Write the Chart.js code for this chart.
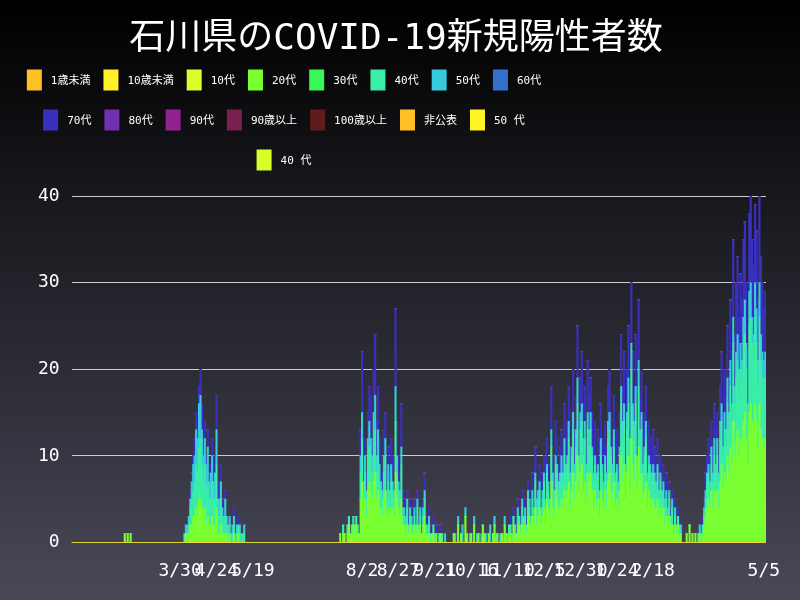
<!DOCTYPE html>
<html><head><meta charset="utf-8">
<script src="https://cdn.jsdelivr.net/npm/chart.js@4"></script>
<style>html,body{margin:0;padding:0;background:#000}#w{width:800px;height:600px}</style>
</head><body><div id="w"><canvas id="c"></canvas></div>
<script>
const startDate = '2020-01-16';
const dayCount = 477;
const shownTicks = ['2020-03-30','2020-04-24','2020-05-19','2020-08-02','2020-08-27','2020-09-21','2020-10-16','2020-11-10','2020-12-05','2020-12-30','2021-01-24','2021-02-18','2021-05-05'];
const legendNames = ['1歳未満','10歳未満','10代','20代','30代','40代','50代','60代','70代','80代','90代','90歳以上','100歳以上','非公表','50 代','40 代'];
const legendColors = ['#ffbf26','#ffef26','#d9ff2a','#7aff33','#38f855','#3aeea8','#38cadc','#3570cc','#3a30c0','#7030b0','#922290','#782050','#601c1c','#ffbf26','#fff326','#d9ff2a'];

// [startDayIndex, values]
const s20 = [
 [36,[1,0,1,0,1]],
 [77,[0,1,0,1,2,2,3,3,4,3,5,5,4,3,4,2,3,2,2,3,2,2,4,1,1,2,1,1,1,1,0,1,0,0,1,0,0,1,0,0,0,0]],
 [184,[1,0,1,1,0,1,2,1,1,2,1,2,1,1,5,7,4,5,3,6,7,6,5,7,8,5,6,4,4,3,5,6,3,4,3,4,4,3,8,5,4,3,5,2,2,1,2,1,2,1,1,2,1,2,1,2,1,2,3,1,1,1,0,1,1,0,1,0,0,1,0,0,0]],
 [262,[1,0,0,2,0,1,0,0,3,1,0,0,1,0,2,0,0,1,0,0,2,1,0,0,1,0,0,1,2,0,1,0,0,1,0,2,1,0]],
 [300,[1,1,0,2,1,1,2,2,1,2, 2,2,1,3,2,2,3,2,4,2, 3,4,2,3,4,2,5,4,3,7, 4,3,6,5,4,4,5,4,6,5, 6,7,4,6,8,5,7,10,6,8, 9,6,7,5,8,7,8,6,4,6, 4,5,3,6,5,4,6,4,7,8, 6,5,7,4,5,4,6,10,7,9, 5,8,10,6,12,9,7,10,6,11, 7,8,5,6,7,4,6,5,4,5, 4,4,5,3,4,3,4,2,3,2, 3,2,2,1,2,1,2,1,1]],
 [422,[1,0,2,0,1,0,1,0]],
 [430,[0,1,0,1,2,3,4,5,4,6, 4,6,5,6,4,7,9,6,8,7, 10,8,11,9,14,10,12,13,10,12, 11,14,15,12,9,15,16,14,13,16,14,11,16,13,12,11,12]]
];
const s40 = [
 [77,[1,0,1,1,2,3,3,4,5,5,6,7,5,4,5,4,4,3,3,4,3,3,5,2,2,3,2,1,2,1,1,1,0,1,1,0,1,1,1,0,1,1]],
 [184,[0,0,1,0,0,1,1,0,1,1,1,1,1,0,3,5,2,3,2,4,4,4,3,5,5,3,4,3,2,2,3,4,2,3,2,3,2,2,6,3,2,2,4,1,1,1,2,1,1,1,1,1,1,2,1,1,0,1,2,1,0,1,1,0,1,0,0,0,1,0,1,0,0]],
 [300,[1,1,0,1,1,0,1,1,1,2, 1,1,1,2,2,1,2,1,3,2, 2,2,1,2,3,2,3,2,2,4, 3,2,3,3,2,3,3,3,4,3, 3,5,3,4,5,3,4,6,3,5, 5,4,5,3,5,4,5,4,3,3, 3,3,2,4,3,2,3,3,5,5, 4,3,4,3,3,2,4,6,5,5, 3,5,6,4,8,5,5,6,3,7, 4,5,3,4,5,3,3,3,3,3, 3,2,3,2,3,2,2,2,2,1, 2,1,2,1,1,1,1,1,0]],
 [430,[1,0,1,1,1,2,3,3,2,3, 3,4,3,4,3,5,5,4,5,4, 6,5,7,5,9,6,7,8,7,8, 7,9,9,8,5,10,10,9,8,10,9,7,10,8,7,7,7]]
];
const s50 = [
 [77,[0,1,1,1,1,2,3,3,4,4,5,5,4,3,3,3,4,2,3,3,2,3,4,2,2,2,1,1,2,1,1,1,1,1,1,1,1,0,1,1,0,1]],
 [184,[0,0,0,0,0,0,0,0,0,0,0,0,0,0,2,3,1,2,1,2,3,2,2,3,4,2,3,2,1,1,2,2,1,2,1,2,1,1,4,2,1,1,2,1,1,1,1,0,1,1,0,1,0,1,0,1,0,1,1,0,1,1,0,0,0,1,0,0,0,0,0,0,1]],
 [262,[0,1,0,1,0,0,2,0,1,0,0,1,0,0,1,0,1,0,0,1,0,0,1,0,0,2,0,0,1,1,0,0,1,0,1,1,0,1]],
 [300,[0,0,1,0,0,0,1,0,0,1, 0,1,0,1,1,0,1,1,1,1, 1,1,1,1,1,1,1,1,0,2, 1,1,1,1,1,1,2,1,2,1, 1,2,1,1,2,1,2,3,1,2, 2,2,2,1,2,2,2,1,1,1, 1,1,1,2,1,1,1,1,2,2, 1,1,2,1,1,1,1,2,2,2, 1,2,3,2,3,2,2,2,1,3, 2,2,1,1,2,1,1,1,1,1, 1,1,1,1,1,1,1,1,1,1, 1,0,1,0,1,0,0,0,1]],
 [430,[0,1,0,0,1,1,1,1,1,2, 1,2,1,2,1,2,2,1,2,2, 3,2,3,2,3,2,3,3,3,3, 3,3,4,3,2,4,4,3,3,4,4,3,4,3,3,3,3]]
];
const s70 = [
 [77,[0,0,0,0,1,1,1,2,2,2,2,3,3,2,2,1,2,1,1,2,1,2,4,2,1,2,1,1,1,0,0,0,0,0,1,0,0,1,0,0,0,0]],
 [184,[0,0,0,0,0,0,0,0,0,0,0,0,0,0,3,7,3,2,2,3,4,5,2,5,7,4,5,3,3,2,3,3,3,2,2,3,3,1,9,4,3,2,5,2,1,1,1,1,1,1,1,1,0,1,1,0,1,1,2,1,0,1,0,1,1,0,1,0,0,1,0,0,0]],
 [300,[0,1,0,1,1,1,1,1,1,1, 1,1,1,1,1,1,2,1,3,1, 1,2,1,2,2,1,3,2,2,5, 2,2,4,3,2,3,3,2,4,3, 4,4,3,4,5,4,4,6,4,4, 6,4,4,3,6,4,4,4,3,4, 2,4,2,4,3,2,4,3,4,5, 4,3,4,2,4,2,4,6,4,6, 3,5,6,4,7,6,4,6,4,7, 4,5,4,4,4,3,4,3,2,4, 3,2,3,2,2,1,2,1,2,1, 1,1,1,1,1,0,1,1,0]],
 [430,[0,0,0,1,1,2,2,3,2,3, 3,4,4,3,2,4,6,4,5,4, 6,4,7,6,9,6,8,9,6,8, 7,9,9,7,6,9,10,9,8,9,9,7,10,9,8,6,7]]
];

function place(segs){const a=new Array(dayCount).fill(0);segs.forEach(([s,v])=>v.forEach((x,i)=>{a[s+i]=x;}));return a;}
const labels=[];{const d0=new Date(startDate+'T00:00:00Z');for(let i=0;i<dayCount;i++){const d=new Date(d0.getTime()+i*86400000);labels.push(d.toISOString().slice(0,10));}}
const seriesMap={'20代':s20,'40代':s40,'50代':s50,'70代':s70};
const datasets=legendNames.map((n,i)=>({label:n,data:seriesMap[n]?place(seriesMap[n]):new Array(dayCount).fill(0),backgroundColor:legendColors[i],borderWidth:0,barPercentage:1,categoryPercentage:1}));

const FONT="'DejaVu Sans Mono','Noto Sans CJK JP',monospace";
const bg={id:'bg',beforeDraw(c){const g=c.ctx,gr=g.createLinearGradient(0,0,0,c.height);gr.addColorStop(0,'#000000');gr.addColorStop(1,'#484858');g.save();g.fillStyle=gr;g.fillRect(0,0,c.width,c.height);g.restore();}};
// legend laid out in a fixed-width block, rows centred
const myLegend={id:'myLegend',afterDraw(c){const g=c.ctx;g.save();g.font='11px '+FONT;g.textBaseline='middle';
 const W=540,cx=284,bw=15,bh=21,gap=9,sp=13,rowY=[80,120,160];
 const items=c.data.datasets.map(d=>({t:d.label,col:d.backgroundColor,w:bw+gap+g.measureText(d.label).width}));
 const rows=[[]];let cur=0;items.forEach(it=>{const add=(rows[rows.length-1].length?sp:0)+it.w;if(cur+add>W&&rows[rows.length-1].length){rows.push([it]);cur=it.w;}else{rows[rows.length-1].push(it);cur+=add;}});
 rows.forEach((r,ri)=>{const tw=r.reduce((s,it)=>s+it.w,0)+sp*(r.length-1);let x=cx-tw/2;const y=rowY[ri]||rowY[2]+40*(ri-2);
  r.forEach(it=>{g.fillStyle=it.col;g.fillRect(x,y-bh/2,bw,bh);g.fillStyle='#fff';g.fillText(it.t,x+bw+gap,y+1);x+=it.w+sp;});});
 g.restore();}};
new Chart(document.getElementById('c'),{type:'bar',data:{labels,datasets},plugins:[bg,myLegend],
options:{responsive:true,maintainAspectRatio:false,animation:false,
layout:{padding:{left:26,right:34,top:14,bottom:8}},
plugins:{title:{display:true,text:'石川県のCOVID-19新規陽性者数',color:'#fff',font:{size:36,family:FONT,weight:'normal'},padding:{top:4,bottom:135}},
legend:{display:false},tooltip:{enabled:false}},
scales:{x:{stacked:true,grid:{display:false},border:{display:false},ticks:{color:'#fff',autoSkip:false,maxRotation:0,padding:10,font:{size:18,family:FONT},callback:function(v,i){const l=labels[i];if(!shownTicks.includes(l))return '';const p=l.split('-');return (+p[1])+'/'+(+p[2]);}}},
y:{stacked:true,min:0,max:40,ticks:{stepSize:10,color:'#fff',padding:12,font:{size:18,family:FONT}},grid:{color:'#ccc',drawTicks:false},border:{display:false}}}}});
</script></body></html>
